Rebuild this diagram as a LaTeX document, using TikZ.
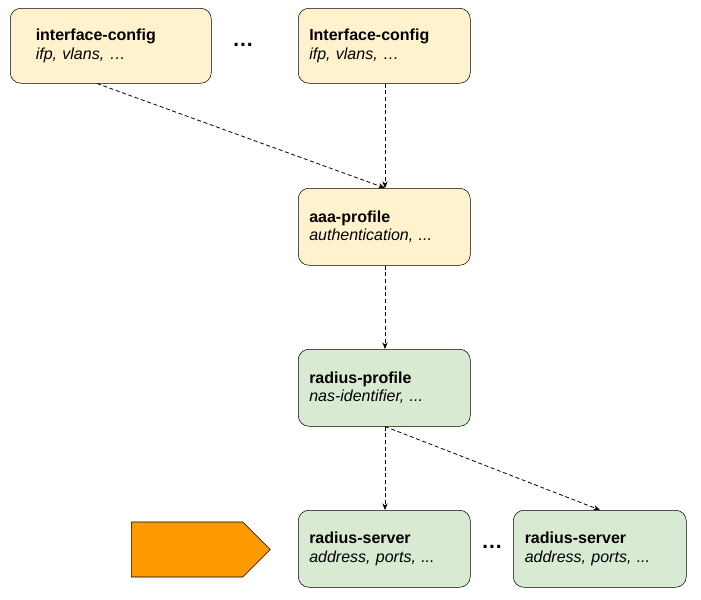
\documentclass[tikz,border=0pt]{standalone}
\usepackage{fontspec}
\setmainfont{Liberation Sans}
\usetikzlibrary{arrows.meta,calc,shapes.arrows}
\definecolor{cfgfill}{RGB}{255,242,204}
\definecolor{radfill}{RGB}{217,234,211}
\definecolor{arrfill}{RGB}{255,153,0}
\tikzset{
  box/.style={draw=black, rounded corners=8pt, anchor=north west, minimum width=172*0.75pt,
    minimum height=77*0.75pt, text width=150*0.75pt, align=left, inner xsep=11*0.75pt, font=\fontsize{12}{14}\selectfont},
  link/.style={densely dashed, -{Stealth[length=5pt,width=4pt]}, line width=0.6pt}
}
\begin{document}
\begin{tikzpicture}[x=0.75pt,y=0.75pt,yscale=-1,xscale=1]
\useasboundingbox (0,0) rectangle (701,600);

% top row
\node[box, fill=cfgfill, minimum width=201*0.75pt, minimum height=75*0.75pt] (ic1) at (10,8) {\textbf{interface-config}\\\textit{ifp, vlans, …}};
\node[box, fill=cfgfill, minimum height=75*0.75pt] (ic2) at (298,8) {\textbf{Interface-config}\\\textit{ifp, vlans, …}};
\node[font=\fontsize{16}{18}\selectfont\bfseries] (dots1) at (243,45) {…};

% middle
\node[box, fill=cfgfill] (aaa) at (298,188) {\textbf{aaa-profile}\\\textit{authentication, ...}};
\node[box, fill=radfill] (rp) at (298,349) {\textbf{radius-profile}\\\textit{nas-identifier, ...}};

% bottom row
\node[box, fill=radfill] (rs1) at (298,510) {\textbf{radius-server}\\\textit{address, ports, ...}};
\node[box, fill=radfill, minimum width=173*0.75pt] (rs2) at (513,510) {\textbf{radius-server}\\\textit{address, ports, ...}};
\node[font=\fontsize{16}{18}\selectfont\bfseries] (dots2) at (492,547) {…};

% pointer
\node[single arrow, draw=black, fill=arrfill, minimum height=139*0.75pt, minimum width=55*0.75pt,
  single arrow head extend=0pt, single arrow tip angle=90, inner sep=0pt, anchor=west] (ptr) at (131,549.5) {};

% connectors
\coordinate (ic1out) at ($(ic1.south west)+(87,0)$);
\coordinate (aaain) at ($(aaa.north west)+(87,0)$);
\draw[link] (ic1out) -- (aaain);
\draw[link] ($(ic2.south west)+(87,0)$) -- (aaain);
\draw[link] ($(aaa.south west)+(87,0)$) -- ($(rp.north west)+(87,0)$);
\draw[link] ($(rp.south west)+(87,0)$) -- ($(rs1.north west)+(87,0)$);
\draw[link] ($(rp.south west)+(87,0)$) -- ($(rs2.north west)+(87,0)$);
\end{tikzpicture}
\end{document}
